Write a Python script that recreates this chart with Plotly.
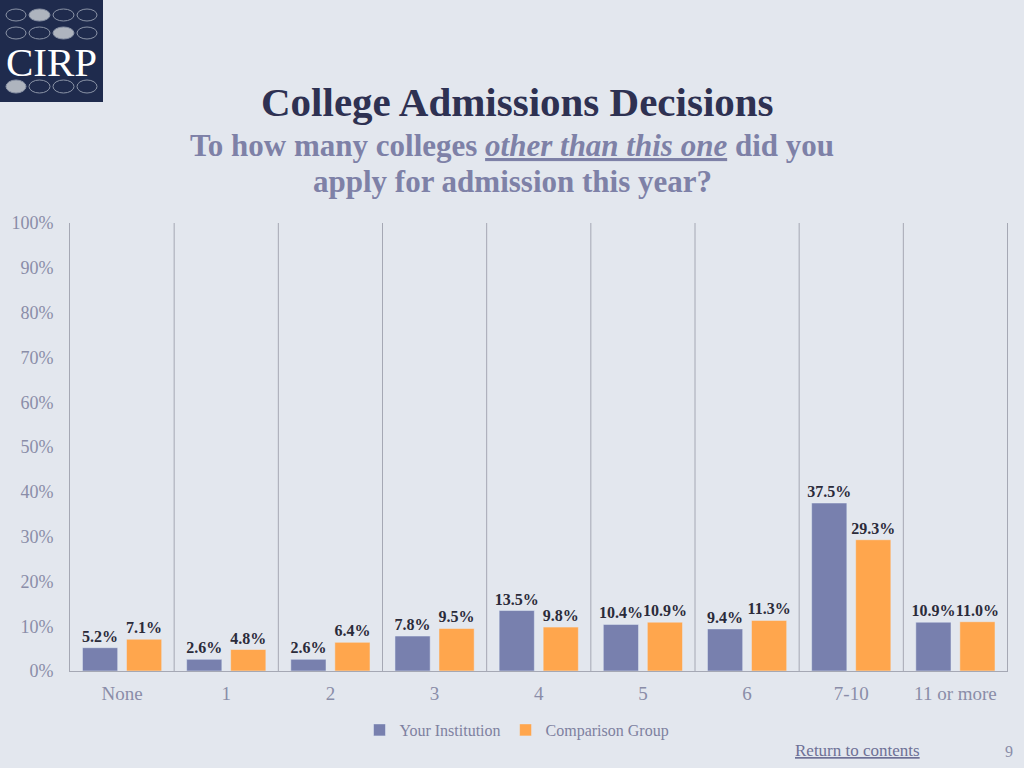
import plotly.graph_objects as go

categories = ["None", "1", "2", "3", "4", "5", "6", "7-10", "11 or more"]
your_institution = [5.2, 2.6, 2.6, 7.8, 13.5, 10.4, 9.4, 37.5, 10.9]
comparison_group = [7.1, 4.8, 6.4, 9.5, 9.8, 10.9, 11.3, 29.3, 11.0]
y_ticks = [0, 10, 20, 30, 40, 50, 60, 70, 80, 90, 100]

W, H = 1024, 768
ML, MR, MT, MB = 70, 16, 223, 97
PW, PH = W - ML - MR, H - MT - MB

def px(x):
    return (x - ML) / PW

def py(y):
    return (H - MB - y) / PH

BG = "#E3E7EE"
BLUE = "#7880AE"
ORANGE = "#FFA64D"
FONT = "Liberation Serif"
LABEL_FONT = dict(family=FONT, size=16, color="#2B2B3A")

fig = go.Figure()
fig.add_trace(go.Bar(
    x=categories, y=your_institution, name="Your Institution",
    marker_color=BLUE,
    text=[f"<b>{v:.1f}%</b>" for v in your_institution], textposition="outside",
    textfont=LABEL_FONT, constraintext="none", textangle=0,
    cliponaxis=False,
))
fig.add_trace(go.Bar(
    x=categories, y=comparison_group, name="Comparison Group",
    marker_color=ORANGE,
    text=[f"<b>{v:.1f}%</b>" for v in comparison_group], textposition="outside",
    textfont=LABEL_FONT, constraintext="none", textangle=0,
    cliponaxis=False,
))

shapes = []
for i in range(1, len(categories) + 1):
    shapes.append(dict(type="line", xref="x", yref="paper", x0=i - 0.5, x1=i - 0.5,
                       y0=0, y1=1, line=dict(color="#A5A8B4", width=1), layer="below"))

# logo
shapes.append(dict(type="rect", xref="paper", yref="paper", x0=px(0), x1=px(103),
                   y0=py(102), y1=py(0), fillcolor="#1F2B4D", line=dict(width=0), layer="above"))
oval_cols = [(6, 26), (29, 50), (53, 74), (77, 97)]
oval_rows = [(9, 21), (27, 39), (80, 93)]
filled = {(0, 1), (1, 2), (2, 0)}
for r, (ya, yb) in enumerate(oval_rows):
    for c, (xa, xb) in enumerate(oval_cols):
        f = (r, c) in filled
        shapes.append(dict(type="circle", xref="paper", yref="paper",
                           x0=px(xa), x1=px(xb), y0=py(yb), y1=py(ya),
                           fillcolor="#AEB4BE" if f else "rgba(0,0,0,0)",
                           line=dict(color="#8A93A6", width=1), layer="above"))

annotations = [
    dict(text="CIRP", xref="paper", yref="paper", x=px(51), y=py(62), showarrow=False,
         font=dict(family=FONT, size=41, color="white"), xanchor="center", yanchor="middle"),
    dict(text="<b>College Admissions Decisions</b>", xref="paper", yref="paper",
         x=px(517), y=py(102), showarrow=False, xanchor="center", yanchor="middle",
         font=dict(family=FONT, size=41, color="#2E3152")),
    dict(text="<b>To how many colleges <i><u>other than this one</u></i> did you</b>",
         xref="paper", yref="paper", x=px(512), y=py(145), showarrow=False,
         xanchor="center", yanchor="middle",
         font=dict(family=FONT, size=31, color="#7E81A7")),
    dict(text="<b>apply for admission this year?</b>",
         xref="paper", yref="paper", x=px(512), y=py(182), showarrow=False,
         xanchor="center", yanchor="middle",
         font=dict(family=FONT, size=31, color="#7E81A7")),
    dict(text="<u>Return to contents</u>", xref="paper", yref="paper",
         x=px(857), y=py(750), showarrow=False, xanchor="center", yanchor="middle",
         font=dict(family=FONT, size=17, color="#6E7196")),
    dict(text="9", xref="paper", yref="paper", x=px(1009), y=py(751), showarrow=False,
         xanchor="center", yanchor="middle",
         font=dict(family=FONT, size=16, color="#8A8DA8")),
]

fig.update_layout(
    width=W, height=H,
    margin=dict(l=ML, r=MR, t=MT, b=MB, pad=0),
    paper_bgcolor=BG, plot_bgcolor=BG,
    barmode="group", bargap=0.155, bargroupgap=0.2,
    showlegend=True,
    legend=dict(orientation="h", x=px(517), y=py(730), xanchor="center", yanchor="middle",
                font=dict(family=FONT, size=16, color="#7E81A0"),
                itemwidth=30, traceorder="normal", bgcolor="rgba(0,0,0,0)"),
    font=dict(family=FONT),
    shapes=shapes,
    annotations=annotations,
)
fig.update_xaxes(showgrid=False, showline=True, linecolor="#A5A8B4", linewidth=1,
                 tickfont=dict(family=FONT, size=19, color="#8A8DA8"), ticks="",
                 ticklabelstandoff=5)
fig.update_yaxes(range=[0, 100], tickvals=y_ticks, ticktext=[f"{v}%" for v in y_ticks],
                 showgrid=False, showline=True, linecolor="#A5A8B4", linewidth=1,
                 zeroline=False, ticks="", ticklabelstandoff=12,
                 tickfont=dict(family=FONT, size=18, color="#8A8DA8"))

fig.write_html(
    "out.html",
    config={"displayModeBar": False},
    post_script=(
        "document.body.style.margin='0';"
        "document.body.style.background='" + BG + "';"
        "document.documentElement.style.overflow='hidden';"
    ),
)
